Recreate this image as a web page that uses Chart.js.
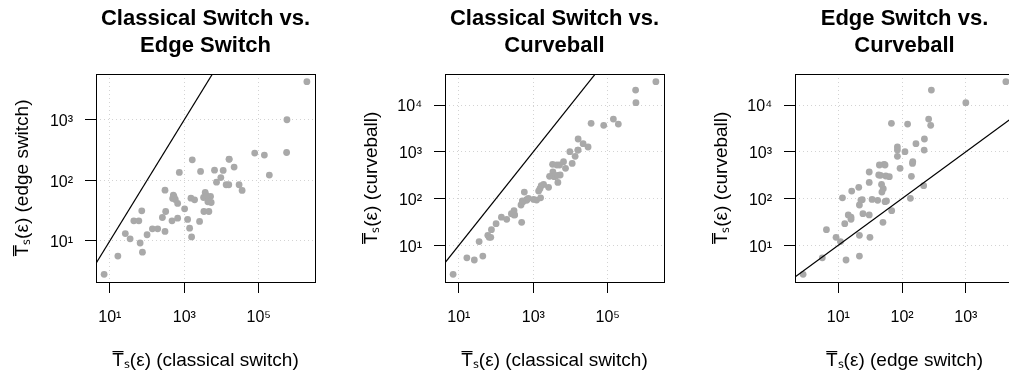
<!DOCTYPE html>
<html>
<head>
<meta charset="utf-8">
<script src="https://cdn.jsdelivr.net/npm/chart.js@4"></script>
<style>
  html, body { margin: 0; padding: 0; background: #fff; overflow: hidden; }
  body { width: 1009px; height: 376px; position: relative; }
  canvas { position: absolute; top: 0; }
</style>
</head>
<body>
<canvas id="p1" width="336" height="376" style="left:0px"></canvas>
<canvas id="p2" width="336" height="376" style="left:349px"></canvas>
<canvas id="p3" width="336" height="376" style="left:699px"></canvas>
<script>
// mean switching times per network, one entry per graph
let classicalSwitch = [
    7.0, 16.4, 26, 35, 65, 75, 44, 60, 72, 100,
    139, 193, 303, 258, 316, 303, 468, 663, 507, 528,
    487, 574, 663, 735, 1020, 1228, 1390, 1572, 1510, 1892,
    1637, 2576, 2738, 3365, 4580, 3650, 3296, 3963, 5070, 4487,
    5280, 4300, 6494, 7345, 9600, 11090, 13330, 15700, 16030, 16030,
    21830, 29700, 35800, 78100, 141900, 193000, 562000, 574000, 1972000
];
let edgeSwitch = [
    2.8, 5.6, 13.2, 10.8, 9.2, 6.5, 21.4, 21.4, 31.3, 12.6,
    15.8, 15.8, 14.3, 24.3, 30.5, 68.7, 21.4, 23.7, 56.9, 54,
    50.1, 48.2, 41.4, 135, 33.8, 22.6, 16.2, 11.6, 50.7, 47.6,
    218, 20.9, 140, 30.5, 30.5, 63, 52, 55.5, 54, 45.8,
    43, 44, 147, 93, 111, 145.6, 84.4, 84.4, 224, 222,
    165, 84.4, 68, 281, 261, 122, 288, 1000, 4250
];
let curveball = [
    2.4, 5.4, 4.85, 12.0, 14.8, 21.6, 5.9, 16.4, 14.8, 29,
    40, 36, 44.6, 47.5, 44.6, 55, 72.8, 94.6, 88.7, 86,
    31, 138, 91.6, 101, 96, 93, 145, 104, 163, 201,
    189, 174, 299, 370, 222, 294, 540, 304, 522, 314,
    319, 522, 615, 443, 1007, 566, 800, 1092, 1880, 1092,
    1493, 1268, 4064, 3680, 5024, 3926, 20940, 11250, 31620
];

// reference line y = x
let diagonal = [0.1, 1e8];

let ticksCS = [1e1, 1e3, 1e5];
let labelsCS = ['10¹', '10³', '10⁵'];
let ticksES = [1e1, 1e2, 1e3];
let labelsES = ['10¹', '10²', '10³'];
let ticksCB = [1e1, 1e2, 1e3, 1e4];
let labelsCB = ['10¹', '10²', '10³', '10⁴'];

let FONT = "'Liberation Sans', Arial, Helvetica, sans-serif";

// R style: axis limits are the data range plus 4% on each side (log scale)
function rLimits(values) {
    let logs = values.map(v => Math.log10(v));
    let lo = Math.min(...logs), hi = Math.max(...logs);
    let pad = (hi - lo) * 0.04;
    return [Math.pow(10, lo - pad), Math.pow(10, hi + pad)];
}

// full box around the plot region
let boxPlugin = {
    id: 'box',
    afterDraw(chart) {
        let a = chart.chartArea;
        let c = chart.ctx;
        c.save();
        c.strokeStyle = '#000';
        c.lineWidth = 1;
        c.strokeRect(Math.round(a.left) + 0.5, Math.round(a.top) + 0.5,
                     Math.round(a.right - a.left), Math.round(a.bottom - a.top));
        c.restore();
    }
};

function logAxis(limits, tickValues, tickLabels, title, horizontal) {
    return {
        type: 'logarithmic',
        min: limits[0],
        max: limits[1],
        afterBuildTicks: axis => { axis.ticks = tickValues.map(v => ({ value: v })); },
        afterFit: axis => {
            if (horizontal) axis.height = 94;
            else axis.width = 96;
        },
        ticks: {
            autoSkip: false,
            maxRotation: 0,
            color: '#000',
            padding: horizontal ? 15 : 12,
            labelOffset: horizontal ? 0 : 2,
            font: { family: FONT, size: 16 },
            callback: (v, i) => tickLabels[i]
        },
        grid: {
            color: '#d3d3d3',
            lineWidth: 1,
            tickLength: 11,
            tickColor: '#000',
            tickWidth: 1,
            tickBorderDash: []
        },
        border: { display: false, dash: [1, 3] },
        title: {
            display: true,
            text: title,
            color: '#000',
            font: { family: FONT, size: 19, lineHeight: 1.2 },
            padding: horizontal ? { top: 0, bottom: 4 } : { top: 11, bottom: 0 }
        }
    };
}

function makePanel(id, xs, ys, heading, xInfo, yInfo) {
    let points = xs.map((x, i) => ({ x: x, y: ys[i] }));
    return new Chart(document.getElementById(id).getContext('2d'), {
        type: 'scatter',
        data: {
            datasets: [{
                type: 'line',
                data: diagonal.map(d => ({ x: d, y: d })),
                borderColor: '#000',
                borderWidth: 1.2,
                pointRadius: 0,
                fill: false
            }, {
                data: points,
                backgroundColor: '#a9a9a9',
                borderWidth: 0,
                pointRadius: 3.4
            }]
        },
        options: {
            responsive: false,
            animation: false,
            layout: { padding: { left: 0, right: 21, top: 0, bottom: 0 } },
            plugins: {
                legend: { display: false },
                tooltip: { enabled: false },
                title: {
                    display: true,
                    text: heading,
                    fullSize: false,
                    color: '#000',
                    font: { family: FONT, size: 22, weight: 'bold', lineHeight: '27px' },
                    padding: { top: 5, bottom: 15 }
                }
            },
            scales: {
                x: logAxis(rLimits(xs), xInfo[0], xInfo[1], xInfo[2], true),
                y: logAxis(rLimits(ys), yInfo[0], yInfo[1], yInfo[2], false)
            }
        },
        plugins: [boxPlugin]
    });
}

let xlabCS = 'T\u0305\u209b(\u03b5) (classical switch)';
let xlabES = 'T\u0305\u209b(\u03b5) (edge switch)';
let ylabES = 'T\u0305\u209b(\u03b5) (edge switch)';
let ylabCB = 'T\u0305\u209b(\u03b5) (curveball)';

makePanel('p1', classicalSwitch, edgeSwitch, ['Classical Switch vs.', 'Edge Switch'],
    [ticksCS, labelsCS, xlabCS], [ticksES, labelsES, ylabES]);
makePanel('p2', classicalSwitch, curveball, ['Classical Switch vs.', 'Curveball'],
    [ticksCS, labelsCS, xlabCS], [ticksCB, labelsCB, ylabCB]);
makePanel('p3', edgeSwitch, curveball, ['Edge Switch vs.', 'Curveball'],
    [ticksES, labelsES, xlabES], [ticksCB, labelsCB, ylabCB]);
</script>
</body>
</html>
